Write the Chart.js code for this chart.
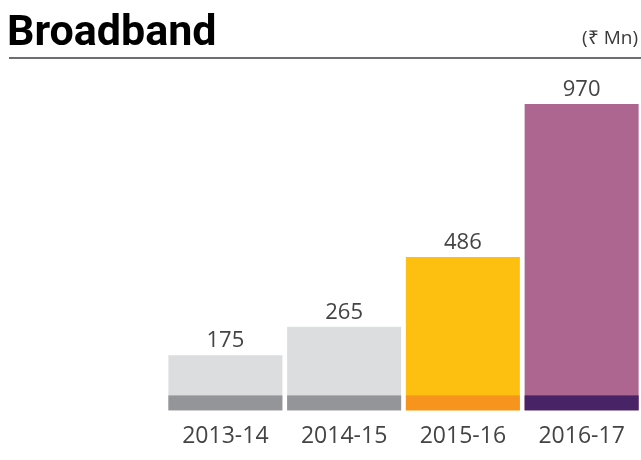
<!DOCTYPE html>
<html>
<head>
<meta charset="utf-8">
<script src="https://cdn.jsdelivr.net/npm/chart.js@4"></script>
<style>
  html, body { margin: 0; padding: 0; background: #fff; overflow: hidden; }
</style>
</head>
<body>
<canvas id="myChart" width="641" height="460"></canvas>
<script>
const years = ["2013-14", "2014-15", "2015-16", "2016-17"];
const revenue = [175, 265, 486, 970];

// colours: main bar and the darker strip at its foot
const barColors = ["#DCDDDF", "#DCDDDF", "#FDC010", "#AC6690"];
const stripColors = ["#939598", "#939598", "#F7941D", "#482466"];

// title, unit, rule under the title
const headerPlugin = {
  id: "header",
  beforeDraw(chart) {
    const ctx = chart.ctx;
    ctx.save();
    ctx.fillStyle = "#000";
    ctx.font = "bold 43px Roboto";
    ctx.textAlign = "left";
    ctx.textBaseline = "alphabetic";
    ctx.fillText("Broadband", 7, 45);

    ctx.fillStyle = "#3a3a3a";
    ctx.font = "19px 'Open Sans'";
    ctx.textAlign = "right";
    ctx.fillText("(₹ Mn)", 638, 44);

    ctx.fillStyle = "#6d6e71";
    ctx.fillRect(9, 57, 632, 2);
    ctx.restore();
  },
};

// darker band at the bottom of each bar + value labels
const barExtras = {
  id: "barExtras",
  afterDatasetsDraw(chart) {
    const ctx = chart.ctx;
    const meta = chart.getDatasetMeta(0);
    ctx.save();
    meta.data.forEach((bar, i) => {
      ctx.fillStyle = stripColors[i];
      ctx.fillRect(bar.x - bar.width / 2, bar.base - 15, bar.width, 15);

      ctx.fillStyle = "#444";
      ctx.font = "22px 'Open Sans'";
      ctx.textAlign = "center";
      ctx.textBaseline = "alphabetic";
      ctx.fillText(revenue[i], bar.x, bar.y - 8);
    });
    ctx.restore();
  },
};

const ctx = document.getElementById("myChart").getContext("2d");
new Chart(ctx, {
  type: "bar",
  data: {
    labels: years,
    datasets: [
      {
        data: revenue,
        backgroundColor: barColors,
        borderWidth: 0,
        barPercentage: 0.96,
        categoryPercentage: 1,
      },
    ],
  },
  options: {
    responsive: false,
    animation: false,
    devicePixelRatio: 1,
    layout: {
      padding: { left: 166, right: 0, top: 63, bottom: -2 },
    },
    plugins: {
      legend: { display: false },
      tooltip: { enabled: false },
    },
    scales: {
      x: {
        grid: { display: false, drawTicks: false },
        border: { display: false },
        ticks: {
          color: "#444",
          font: { family: "'Open Sans'", size: 23 },
          padding: 12,
        },
      },
      y: {
        display: false,
        min: 0,
        max: 1100,
      },
    },
  },
  plugins: [headerPlugin, barExtras],
});
</script>
</body>
</html>
